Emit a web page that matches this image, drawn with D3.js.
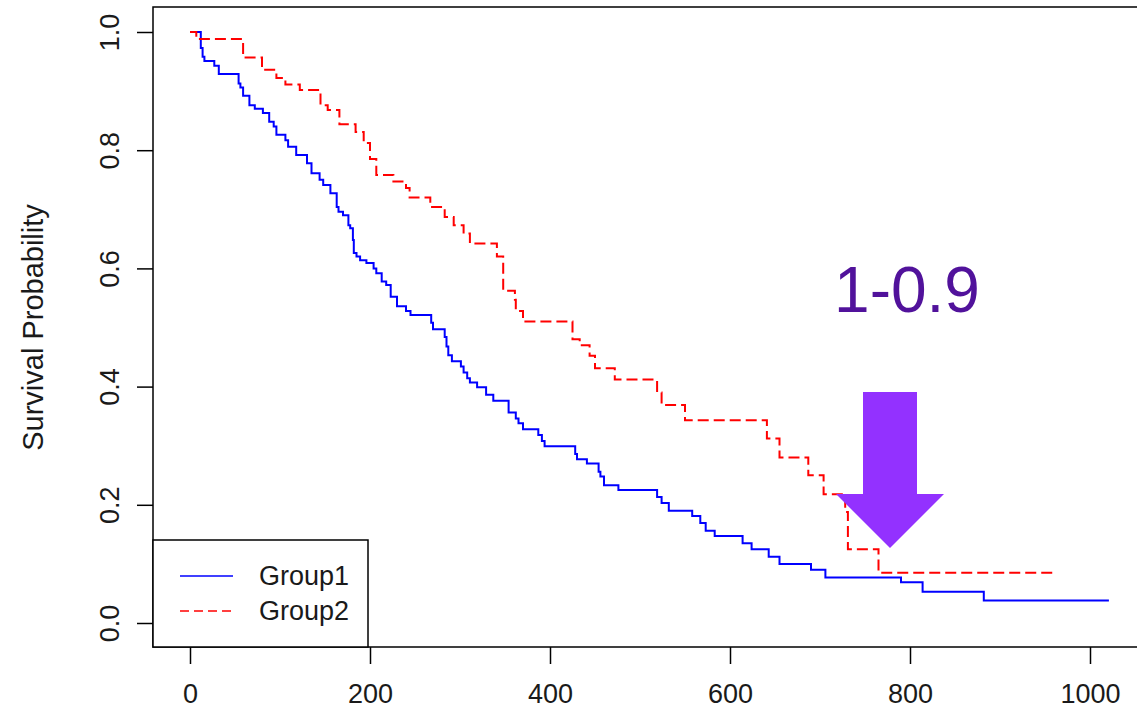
<!DOCTYPE html>
<html>
<head>
<meta charset="utf-8">
<script src="https://cdn.jsdelivr.net/npm/d3@7"></script>
<style>
  body { margin: 0; background: #fff; }
  svg { display: block; font-family: "Liberation Sans", Arial, sans-serif; }
</style>
</head>
<body>
<svg width="1137" height="715"></svg>
<script>
// survival curves (time, survival)
const group1Time = [0, 12, 14, 16, 27, 32, 54, 56, 59, 66, 72, 81, 88, 93, 96, 106, 109, 118, 130, 135, 144, 148, 156, 163, 165, 170, 176, 178, 181, 182, 185, 189, 196, 204, 207, 213, 218, 223, 230, 240, 245, 268, 270, 283, 285, 287, 291, 301, 304, 308, 311, 319, 329, 337, 354, 362, 365, 370, 387, 391, 394, 428, 430, 441, 454, 456, 460, 476, 519, 524, 532, 558, 567, 573, 583, 614, 624, 643, 655, 690, 706, 790, 814, 882, 1021];
const group1Surv = [1.0, 0.973, 0.958, 0.951, 0.943, 0.929, 0.913, 0.906, 0.892, 0.876, 0.870, 0.863, 0.848, 0.840, 0.826, 0.817, 0.806, 0.792, 0.778, 0.761, 0.750, 0.741, 0.727, 0.704, 0.696, 0.690, 0.673, 0.668, 0.648, 0.626, 0.620, 0.614, 0.609, 0.600, 0.592, 0.578, 0.572, 0.552, 0.536, 0.528, 0.521, 0.508, 0.497, 0.484, 0.468, 0.453, 0.443, 0.434, 0.424, 0.414, 0.407, 0.399, 0.386, 0.376, 0.356, 0.346, 0.338, 0.328, 0.318, 0.308, 0.299, 0.286, 0.277, 0.270, 0.256, 0.248, 0.233, 0.225, 0.213, 0.203, 0.190, 0.181, 0.169, 0.156, 0.147, 0.135, 0.125, 0.112, 0.100, 0.090, 0.077, 0.069, 0.053, 0.038, 0.038];

const group2Time = [0, 7, 59, 80, 96, 106, 122, 145, 153, 166, 184, 193, 200, 207, 226, 240, 244, 267, 283, 293, 304, 311, 341, 348, 361, 362, 370, 425, 433, 444, 450, 472, 519, 524, 550, 641, 655, 687, 704, 728, 731, 765, 963];
const group2Surv = [1.0, 0.988, 0.957, 0.936, 0.922, 0.911, 0.902, 0.876, 0.868, 0.844, 0.831, 0.812, 0.785, 0.758, 0.747, 0.736, 0.720, 0.704, 0.687, 0.673, 0.659, 0.642, 0.620, 0.562, 0.547, 0.528, 0.510, 0.480, 0.470, 0.452, 0.431, 0.412, 0.390, 0.369, 0.343, 0.312, 0.280, 0.250, 0.218, 0.188, 0.125, 0.085, 0.085];

const xTicks = [0, 200, 400, 600, 800, 1000];
const yTicks = [0, 0.2, 0.4, 0.6, 0.8, 1.0];
const groupNames = ["Group1", "Group2"];

const svg = d3.select("svg");
const fontSize = 27;

const x = d3.scaleLinear().domain([0, 1000]).range([190, 1090]);
const y = d3.scaleLinear().domain([0, 1]).range([623, 32]);

// plot box (right edge runs off the picture)
const box = { left: 153, top: 7, right: 1145, bottom: 647 };
svg.append("rect")
  .attr("x", box.left).attr("y", box.top)
  .attr("width", box.right - box.left).attr("height", box.bottom - box.top)
  .attr("fill", "none").attr("stroke", "#000").attr("stroke-width", 1.5);

// x axis
const xAxis = svg.append("g")
  .attr("transform", "translate(0," + box.bottom + ")")
  .call(d3.axisBottom(x).tickValues(xTicks).tickSize(17).tickPadding(20).tickFormat(d3.format("d")));
xAxis.select(".domain").remove();
xAxis.selectAll("line").attr("stroke", "#000").attr("stroke-width", 1.5);
xAxis.selectAll("text").attr("font-size", fontSize).attr("fill", "#1a1a1a")
  .attr("font-family", "Liberation Sans, Arial, sans-serif");

// y axis, labels rotated like base R
const yAxis = svg.append("g")
  .attr("transform", "translate(" + box.left + ",0)")
  .call(d3.axisLeft(y).tickValues(yTicks).tickSize(16).tickFormat(d3.format(".1f")));
yAxis.select(".domain").remove();
yAxis.selectAll("line").attr("stroke", "#000").attr("stroke-width", 1.5);
yAxis.selectAll("text")
  .attr("font-size", fontSize).attr("fill", "#1a1a1a")
  .attr("font-family", "Liberation Sans, Arial, sans-serif")
  .attr("x", null).attr("dy", null)
  .attr("text-anchor", "middle")
  .attr("transform", "translate(-43,0) rotate(-90)")
  .attr("dy", "0.35em");

svg.append("text")
  .attr("transform", "translate(43," + y(0.5) + ") rotate(-90)")
  .attr("text-anchor", "middle")
  .attr("font-size", 29)
  .attr("fill", "#1a1a1a")
  .text("Survival Probability");

// curves
const step = d3.line()
  .x(d => x(d[0]))
  .y(d => y(d[1]))
  .curve(d3.curveStepAfter);

svg.append("path")
  .datum(d3.zip(group1Time, group1Surv))
  .attr("d", step)
  .attr("fill", "none")
  .attr("stroke", "#0000ff")
  .attr("stroke-width", 2);

svg.append("path")
  .datum(d3.zip(group2Time, group2Surv))
  .attr("d", step)
  .attr("fill", "none")
  .attr("stroke", "#ff0000")
  .attr("stroke-width", 2)
  .attr("stroke-dasharray", "11,5");

// legend
const legend = svg.append("g");
legend.append("rect")
  .attr("x", box.left).attr("y", 540)
  .attr("width", 368 - box.left).attr("height", box.bottom - 540)
  .attr("fill", "#fff").attr("stroke", "#000").attr("stroke-width", 1.5);

const legendRows = legend.selectAll("g.row")
  .data(groupNames)
  .enter()
  .append("g")
  .attr("class", "row")
  .attr("transform", (d, i) => "translate(0," + (576 + i * 35) + ")");

legendRows.append("line")
  .attr("x1", 180).attr("x2", 233)
  .attr("stroke", (d, i) => i === 0 ? "#0000ff" : "#ff0000")
  .attr("stroke-width", 1.5)
  .attr("stroke-dasharray", (d, i) => i === 0 ? null : "9,5");

legendRows.append("text")
  .attr("x", 259)
  .attr("dy", "0.35em")
  .attr("font-size", fontSize)
  .attr("fill", "#1a1a1a")
  .text(d => d);

// annotation: arrow and label
const arrow = [[863, 392], [917, 392], [917, 494], [944, 494], [890, 548], [836, 494], [863, 494]];
svg.append("polygon")
  .attr("points", arrow.map(p => p.join(",")).join(" "))
  .attr("fill", "#9331ff");

svg.append("text")
  .attr("x", 907)
  .attr("y", 312)
  .attr("text-anchor", "middle")
  .attr("font-size", 64)
  .attr("fill", "#51129b")
  .text("1-0.9");
</script>
</body>
</html>
